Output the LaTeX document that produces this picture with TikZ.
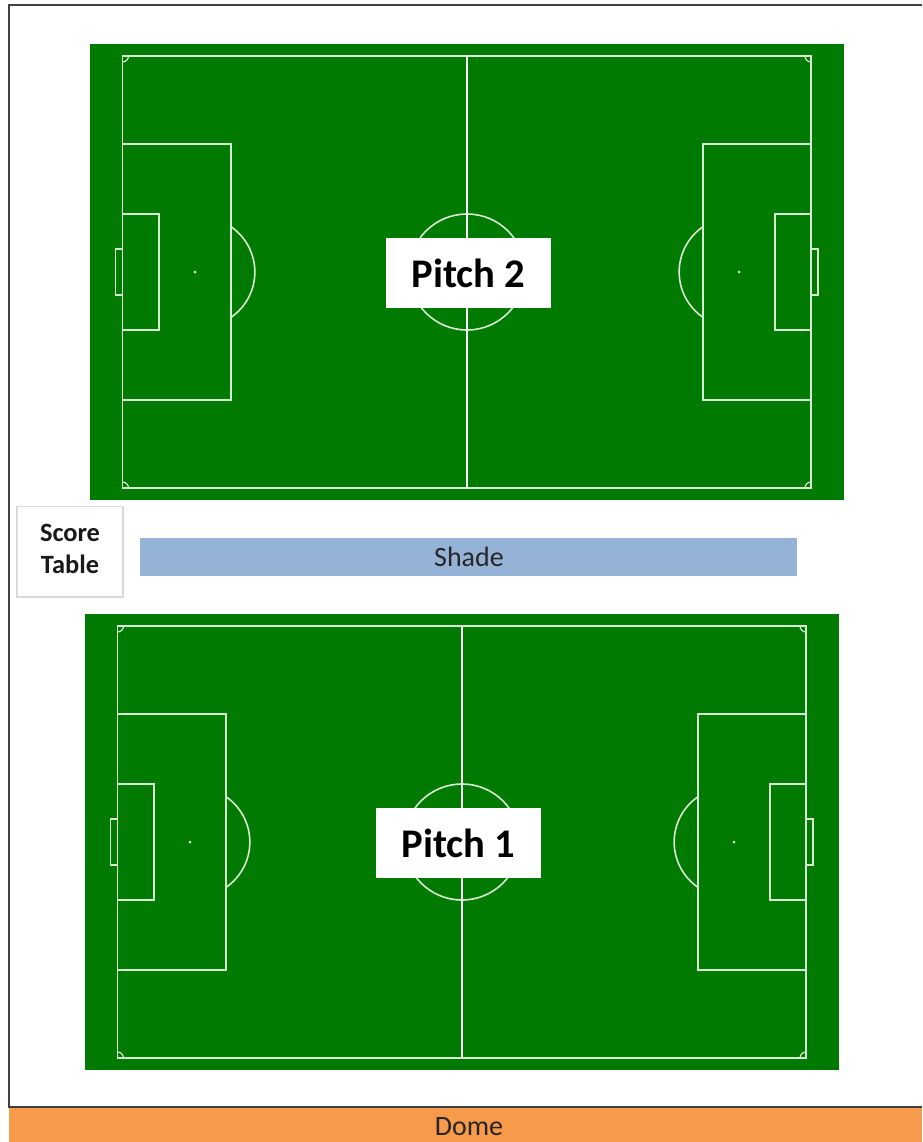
\documentclass[tikz,border=0pt]{standalone}
\usepackage{fontspec}
\setmainfont{Carlito}
\definecolor{turf}{HTML}{007A00}
\definecolor{shadeblue}{HTML}{95B3D7}
\definecolor{domeorange}{HTML}{F79A4B}
\definecolor{framegrey}{HTML}{404040}
\definecolor{tablegrey}{HTML}{D9D9D9}
\definecolor{linewhite}{HTML}{D8EAD4}
\newcommand{\soccerpitch}[2]{%
  \begin{scope}[shift={(#1,#2)}]
    \fill[turf] (90,44) rectangle (844,500);
    \draw[pitchline] (122.5,56) rectangle (811,488);
    \draw[pitchline,draw=white] (467,56) -- (467,488);
    \draw[pitchline] (467,272) circle [radius=58];
    \draw[pitchline] (122.5,144) rectangle (231,400);
    \draw[pitchline] (122.5,214) rectangle (159,330);
    \draw[pitchthin] (122.5,249) rectangle (115.5,295);
    \draw[pitchline] (703,144) rectangle (811,400);
    \draw[pitchline] (775,214) rectangle (811,330);
    \draw[pitchthin] (811,249) rectangle (818,295);
    \fill[linewhite] (195,272) circle [radius=1.5];
    \fill[linewhite] (739,272) circle [radius=1.5];
    \draw[pitchline] (231,226.7) arc [start angle=-55.5, end angle=55.5, radius=55];
    \draw[pitchline] (703,226.7) arc [start angle=235.5, end angle=124.5, radius=55];
    \draw[pitchthin] (128.5,56) arc [start angle=0, end angle=90, radius=6];
    \draw[pitchthin] (805,56) arc [start angle=180, end angle=90, radius=6];
    \draw[pitchthin] (122.5,482) arc [start angle=-90, end angle=0, radius=6];
    \draw[pitchthin] (805,488) arc [start angle=180, end angle=270, radius=6];
  \end{scope}}
\tikzset{
  pitchline/.style={draw=linewhite,line width=1.2pt},
  pitchthin/.style={draw=linewhite,line width=0.9pt},
  pitchlabel/.style={fill=white,minimum width=123.75pt,minimum height=52.5pt,inner sep=0pt,font=\fontsize{30.5}{33}\selectfont\bfseries},
  bandlabel/.style={inner sep=0pt,font=\fontsize{21}{24}\selectfont,text=black!85},
}
\begin{document}
\begin{tikzpicture}[x=0.75pt,y=-0.75pt]
  \useasboundingbox (0,0) rectangle (922,1142);
  \fill[white] (0,0) rectangle (922,1142);
  \draw[framegrey,line width=1.5pt] (8.5,1107) -- (8.5,5) -- (922,5);
  \fill[domeorange] (9,1108) rectangle (922,1142);
  \draw[framegrey,line width=1.5pt] (8,1107) -- (922,1107);
  \soccerpitch{0}{0}
  \soccerpitch{-5}{570}
  \node[pitchlabel] (pitch2) at (468.5,273) {Pitch 2};
  \node[pitchlabel] (pitch1) at (458.5,843) {Pitch 1};
  \fill[shadeblue] (140,538) rectangle (797,576);
  \node[bandlabel] (shade) at (469,557) {Shade};
  \node[bandlabel] (dome) at (469,1127) {Dome};
  \node[draw=tablegrey,line width=1pt,fill=white,minimum width=79.5pt,minimum height=68pt,inner sep=0pt] (score) at (70,551.5) {};
  \node[inner sep=0pt,align=center,font=\fontsize{19.8}{24}\selectfont\bfseries,text=black!90] (scoretext) at (70,549) {Score\\Table};
\end{tikzpicture}
\end{document}
